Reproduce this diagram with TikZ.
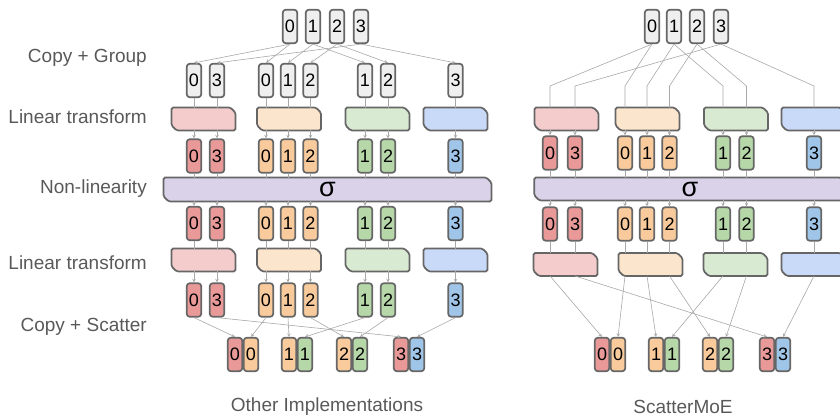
\documentclass[tikz,border=0pt]{standalone}
\usepackage{fontspec}
\setmainfont{Liberation Sans}
\usepackage{tikz}
\usetikzlibrary{positioning}
\usetikzlibrary{arrows,shapes}
\definecolor{cellgray}{HTML}{EFEFEF}
\definecolor{edgegray}{HTML}{666666}
\definecolor{wiregray}{HTML}{A8A8A8}
\definecolor{labelgray}{HTML}{595959}
\definecolor{redcell}{HTML}{EA9999}
\definecolor{redbox}{HTML}{F4CCCC}
\definecolor{orangecell}{HTML}{F9CB9C}
\definecolor{orangebox}{HTML}{FCE5CD}
\definecolor{greencell}{HTML}{B6D7A8}
\definecolor{greenbox}{HTML}{D9EAD3}
\definecolor{bluecell}{HTML}{9FC5E8}
\definecolor{bluebox}{HTML}{C9DAF8}
\definecolor{sigmabox}{HTML}{D9D2E9}
\newcommand\digitfont{\fontsize{18}{18}\selectfont}
\newcommand\labelfont{\fontsize{19}{22}\selectfont}
\tikzstyle{cell}=[rectangle,rounded corners=3pt,draw=edgegray,line width=1.7pt,minimum width=14.5pt,minimum height=33.5pt,inner sep=0pt,font=\digitfont]
\tikzstyle{layer}=[rectangle,minimum width=63.5pt,minimum height=22.5pt,inner sep=0pt]
\tikzstyle{chamfer}=[draw=edgegray,line width=1.7pt,rounded corners=1.5pt]
\tikzstyle{wire} = [draw=wiregray,line width=0.6pt]
\tikzstyle{feed} = [wire,->,>=stealth]
\tikzstyle{rowlabel} = [anchor=east,inner sep=0pt,text=labelgray,font=\labelfont]
\tikzstyle{title} = [text=labelgray,font=\labelfont]
\tikzstyle{sigmatext} = [font=\fontsize{27}{27}\selectfont]
% outline with the top right and bottom left corners cut off
\newcommand\chamferbox[2]{%
  \path[chamfer, fill=#2] (#1.north west) -- ([xshift=-5pt]#1.north east) -- ([yshift=-5pt]#1.north east)
    -- (#1.south east) -- ([xshift=5pt]#1.south west) -- ([yshift=5pt]#1.south west) -- cycle;}

\begin{document}
\begin{tikzpicture}[x=1pt,y=-1pt]

  \useasboundingbox (0,0) rectangle (840,417);
  \clip (0,0) rectangle (840,417);

  % row names
  \foreach \y/\name/\label in {58/lblgroup/Copy + Group, 117/lbllinA/Linear transform, 189/lblsig/Non-linearity, 263/lbllinB/Linear transform, 327/lblscatter/Copy + Scatter}
          \node[rowlabel] (\name) at (147, \y) {\label};

  %%%% other implementations
  \def\Lgroups{194/a/0/redcell, 217/a/3/redcell, 266/b/0/orangecell, 288/b/1/orangecell, 310.5/b/2/orangecell, 365/c/1/greencell, 388/c/2/greencell, 455.5/d/3/bluecell}

  \foreach \x/\name/\label in {290/Lt0/0, 313/Lt1/1, 337/Lt2/2, 361/Lt3/3}
          \node[cell, fill=cellgray] (\name) at (\x, 26.5) {\label};

  \foreach \x/\g/\col in {203.5/a/redbox, 289/b/orangebox, 377.5/c/greenbox, 455.5/d/bluebox} {
          \node[layer] (Llin1\g) at (\x, 119) {};
          \chamferbox{Llin1\g}{\col}
          \node[layer] (Llin2\g) at (\x, 260) {};
          \chamferbox{Llin2\g}{\col}
  }
  \node[layer, minimum width=327.5pt, minimum height=23.5pt] (Lsig) at (327.5, 189.5) {};
  \chamferbox{Lsig}{sigmabox}
  \node[sigmatext] (Lsigma) at (Lsig.center) {σ};

  \foreach \x/\g/\label/\col in \Lgroups {
          \node[cell, fill=cellgray] (Lg\g\label) at (\x, 80.5) {\label};
          \node[cell, fill=\col] (L1\g\label) at (\x, 156) {\label};
          \node[cell, fill=\col] (L2\g\label) at (\x, 223.5) {\label};
          \node[cell, fill=\col] (L3\g\label) at (\x, 300) {\label};
          \draw[wire] (Lg\g\label.south) -- (Lg\g\label.south |- Llin1\g.north);
          \draw[feed] (Llin1\g.south -| L1\g\label) -- (L1\g\label.north);
          \draw[wire] (L1\g\label.south) -- (L1\g\label.south |- Lsig.north);
          \draw[feed] (Lsig.south -| L2\g\label) -- (L2\g\label.north);
          \draw[wire] (L2\g\label.south) -- (L2\g\label.south |- Llin2\g.north);
          \draw[feed] (Llin2\g.south -| L3\g\label) -- (L3\g\label.north);
  }

  \foreach \x/\name/\label/\col in {235/Lm0a/0/redcell, 251/Lm0b/0/orangecell, 289/Lm1a/1/orangecell, 305/Lm1b/1/greencell, 344/Lm2a/2/orangecell, 360/Lm2b/2/greencell, 401/Lm3a/3/redcell, 417/Lm3b/3/bluecell}
          \node[cell, fill=\col] (\name) at (\x, 354.5) {\label};

  \foreach \source/ \dest in {Lt0/Lga0, Lt0/Lgb0, Lt1/Lgb1, Lt1/Lgc1, Lt2/Lgb2, Lt2/Lgc2, Lt3/Lga3, Lt3/Lgd3}
         \draw[feed] (\source.south) -- (\dest.north);

  \foreach \source/ \dest in {L3a0/Lm0a, L3b0/Lm0b, L3b1/Lm1a, L3c1/Lm1b, L3b2/Lm2a, L3c2/Lm2b, L3a3/Lm3a, L3d3/Lm3b}
         \draw[feed] (\source.south) -- (\dest.north);

  \node[title] (Ltitle) at (327, 407) {Other Implementations};

  %%%% scattermoe
  \def\Rgroups{550/a/0/redcell, 575/a/3/redcell, 625/b/0/orangecell, 647/b/1/orangecell, 669.5/b/2/orangecell, 723/c/1/greencell, 746.5/c/2/greencell, 814/d/3/bluecell}

  \foreach \x/\name/\label in {652/Rt0/0, 674/Rt1/1, 697/Rt2/2, 721/Rt3/3}
          \node[cell, fill=cellgray] (\name) at (\x, 26.5) {\label};

  \foreach \x/\y/\name/\col in {566.5/119/Rlin1a/redbox, 647.5/119/Rlin1b/orangebox, 736/119/Rlin1c/greenbox, 813.5/119/Rlin1d/bluebox,
                                565.5/264.5/Rlin2a/redbox, 650.5/264.5/Rlin2b/orangebox, 735.5/264.5/Rlin2c/greenbox, 813.5/264.5/Rlin2d/bluebox} {
          \node[layer] (\name) at (\x, \y) {};
          \chamferbox{\name}{\col}
  }
  \node[layer, minimum width=311pt, minimum height=22.5pt] (Rsig) at (690, 189) {};
  \chamferbox{Rsig}{sigmabox}
  \node[sigmatext] (Rsigma) at (Rsig.center) {σ};

  \foreach \x/\g/\label/\col in \Rgroups {
          \node[cell, fill=\col] (R1\g\label) at (\x, 153) {\label};
          \node[cell, fill=\col] (R2\g\label) at (\x, 224) {\label};
          \draw[feed] (Rlin1\g.south -| R1\g\label) -- (R1\g\label.north);
          \draw[wire] (R1\g\label.south) -- (R1\g\label.south |- Rsig.north);
          \draw[feed] (Rsig.south -| R2\g\label) -- (R2\g\label.north);
          \draw[wire] (R2\g\label.south) -- (R2\g\label.south |- Rlin2\g.north);
  }

  % copy + group folded into the first transform
  \foreach \source/\g/\label in {Rt0/a/0, Rt0/b/0, Rt1/b/1, Rt1/c/1, Rt2/b/2, Rt2/c/2, Rt3/a/3, Rt3/d/3}
         \draw[wire] (\source.south) -- (R1\g\label |- 0,86) -- (R1\g\label |- Rlin1\g.north);

  \foreach \x/\name/\label/\col in {602/Rm0a/0/redcell, 618/Rm0b/0/orangecell, 656/Rm1a/1/orangecell, 672/Rm1b/1/greencell, 710/Rm2a/2/orangecell, 726/Rm2b/2/greencell, 767/Rm3a/3/redcell, 783/Rm3b/3/bluecell}
          \node[cell, fill=\col] (\name) at (\x, 354.5) {\label};

  % copy + scatter folded into the second transform
  \foreach \g/\label/\dest in {a/0/Rm0a, b/0/Rm0b, b/1/Rm1a, c/1/Rm1b, b/2/Rm2a, c/2/Rm2b, a/3/Rm3a, d/3/Rm3b}
         \draw[feed] (R2\g\label |- Rlin2\g.south) -- (\dest.north);

  \node[title] (Rtitle) at (683, 407) {ScatterMoE};

\end{tikzpicture}
\end{document}
